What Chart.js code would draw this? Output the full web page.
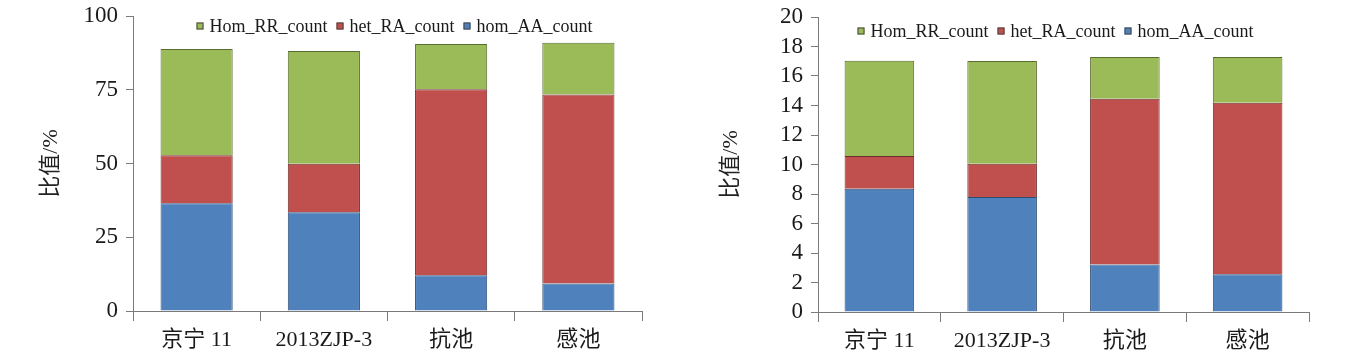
<!DOCTYPE html>
<html lang="zh">
<head>
  <meta charset="UTF-8">
  <title>比值 stacked bars</title>
  <script src="https://cdn.jsdelivr.net/npm/chart.js"></script>
  <style>
    body {
      margin: 0;
      background: #ffffff;
      width: 1347px;
      height: 358px;
      position: relative;
      overflow: hidden;
    }
    .panel {
      position: absolute;
      top: 0;
      height: 358px;
    }
    #leftPanel { left: 0; width: 680px; }
    #rightPanel { left: 680px; width: 667px; }
  </style>
</head>
<body>

  <div class="panel" id="leftPanel"><canvas id="leftChart" width="680" height="358"></canvas></div>
  <div class="panel" id="rightPanel"><canvas id="rightChart" width="667" height="358"></canvas></div>

  <script>
    const categories = ['京宁 11', '2013ZJP-3', '抗池', '感池'];
    const seriesNames = ['hom_AA_count', 'het_RA_count', 'Hom_RR_count'];

    // left panel (scale 0-100)
    const leftAA = [36.5, 33.5, 12.1, 9.3];
    const leftRA = [16.3, 16.4, 63.1, 64.1];
    const leftRR = [36.0, 38.2, 15.3, 17.5];
    const leftTicks = [0, 25, 50, 75, 100];

    // right panel (scale 0-20)
    const rightAA = [8.36, 7.79, 3.22, 2.56];
    const rightRA = [2.22, 2.26, 11.23, 11.62];
    const rightRR = [6.45, 6.96, 2.83, 3.10];
    const rightTicks = [0, 2, 4, 6, 8, 10, 12, 14, 16, 18, 20];

    const yTitle = '比值/%';

    const SERIF = "'Liberation Serif', 'Noto Sans CJK SC', serif";
    const fills = ['#4f81bd', '#c0504d', '#9bbb59'];
    const edges = ['#2e4d73', '#6f2c2a', '#5a6d31'];
    const axisGrey = '#7a7a7a';

    // legend drawn inside the plot area, top, reversed order
    const topLegend = {
      id: 'topLegend',
      afterDraw(chart, args, opts) {
        const { ctx, chartArea } = chart;
        const items = chart.data.datasets.slice().reverse();
        const box = 7, gap = 6, space = 9;
        ctx.save();
        ctx.font = '18px ' + SERIF;
        const widths = items.map(d => box + gap + ctx.measureText(d.label).width);
        const total = widths.reduce((a, b) => a + b, 0) + space * (items.length - 1);
        let x = (chartArea.left + chartArea.right) / 2 - total / 2 + opts.shift;
        const y = chartArea.top + opts.dy;
        ctx.textBaseline = 'middle';
        items.forEach((d, i) => {
          ctx.fillStyle = d.backgroundColor;
          ctx.fillRect(x, y - box / 2, box, box);
          ctx.strokeStyle = '#444';
          ctx.lineWidth = 1;
          ctx.strokeRect(x + 0.5, y - box / 2 + 0.5, box - 1, box - 1);
          ctx.fillStyle = '#1a1a1a';
          ctx.fillText(d.label, x + box + gap, y + 1);
          x += widths[i] + space;
        });
        ctx.restore();
      }
    };

    function makeChart(id, series, ticks, dims) {
      const top = ticks[ticks.length - 1];
      return new Chart(document.getElementById(id), {
        type: 'bar',
        data: {
          labels: categories,
          datasets: series.map((vals, i) => ({
            label: seriesNames[i],
            data: vals,
            backgroundColor: fills[i],
            borderColor: edges[i],
            borderWidth: 1,
            barPercentage: 0.567,
            categoryPercentage: 1
          }))
        },
        options: {
          responsive: false,
          animation: false,
          layout: { padding: { top: dims.top, right: dims.right, left: 0, bottom: 0 } },
          plugins: {
            legend: { display: false },
            tooltip: { enabled: false },
            topLegend: { shift: dims.legendShift, dy: dims.legendDy }
          },
          scales: {
            x: {
              stacked: true,
              grid: { drawOnChartArea: false, offset: true, tickLength: 10, color: axisGrey },
              border: { color: axisGrey },
              ticks: { padding: 6, color: '#1a1a1a', font: { family: SERIF, size: 22 } },
              afterFit(scale) { scale.height = dims.xHeight; }
            },
            y: {
              stacked: true,
              min: 0,
              max: top,
              afterBuildTicks(scale) { scale.ticks = ticks.map(v => ({ value: v })); },
              grid: { drawOnChartArea: false, tickLength: 7, color: axisGrey },
              border: { color: axisGrey },
              ticks: { autoSkip: false, padding: 8, color: '#1a1a1a', font: { family: SERIF, size: 23 } },
              title: {
                display: true,
                text: yTitle,
                color: '#222',
                padding: { top: 38, bottom: 0 },
                font: { family: SERIF, size: 22 }
              },
              afterFit(scale) {
                scale.width = dims.yWidth;
                scale.paddingTop = 0;
                scale.paddingBottom = 0;
              }
            }
          }
        },
        plugins: [topLegend]
      });
    }

    makeChart('leftChart', [leftAA, leftRA, leftRR], leftTicks,
      { top: 16, right: 38, yWidth: 133, xHeight: 47, legendShift: 7, legendDy: 10 });
    makeChart('rightChart', [rightAA, rightRA, rightRR], rightTicks,
      { top: 17, right: 38, yWidth: 138, xHeight: 46, legendShift: -8, legendDy: 14 });
  </script>

</body>
</html>
